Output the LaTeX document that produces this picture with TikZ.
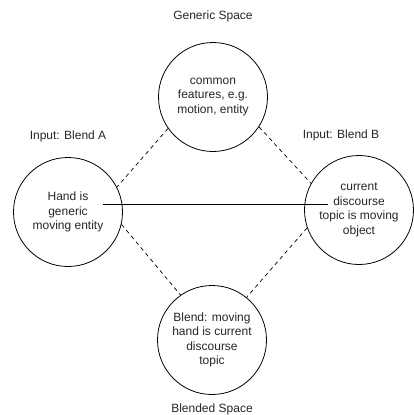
\documentclass[tikz,border=0pt]{standalone}
\usepackage{fontspec}
\setmainfont{Liberation Sans}
\usepackage{tikz}
\usetikzlibrary{calc}

\begin{document}
\begin{tikzpicture}[x=1pt,y=-1pt,font=\fontsize{12}{14.5}\selectfont, every label/.style={text=black!85}]
      \tikzstyle{space node}=[circle,draw,line width=0.8pt,minimum size=109pt,inner sep=0pt,align=center,text=black!85]
      \tikzstyle{map edge}=[draw,line width=0.7pt,dash pattern=on 4pt off 3.5pt]
      \useasboundingbox (0,0) rectangle (414,415);

      \node(generic)[space node,label={[label distance=17pt]above:{Generic Space}}] at (213,97) {common\\features, e.g.\\motion, entity};
      \node(blendA)[space node,label={[label distance=12pt]above:{Input: Blend A}}] at (68,212) {Hand is\\generic\\moving entity};
      \node(blendB)[space node,label={[label distance=11pt,xshift=-18pt]above:{Input: Blend B}}] at (359,210) {current\\discourse\\topic is moving\\object};
      \node(blended)[space node,label={[label distance=5pt]below:{Blended Space}}] at (212,340) {Blend: moving\\hand is current\\discourse\\topic};

      % cross-space mappings
      \draw[map edge] (generic.215) -- (blendA.27);
      \draw[map edge] (generic.327) -- (blendB.151);
      \draw[map edge] (blendA.347) -- (blended.125);
      \draw[map edge] (blendB.199) -- (blended.51);

      \coordinate (handA) at (103,204);
      \coordinate (topicB) at (328,204);
      \draw[line width=0.8pt] (handA) -- (topicB);
    \end{tikzpicture}
\end{document}
